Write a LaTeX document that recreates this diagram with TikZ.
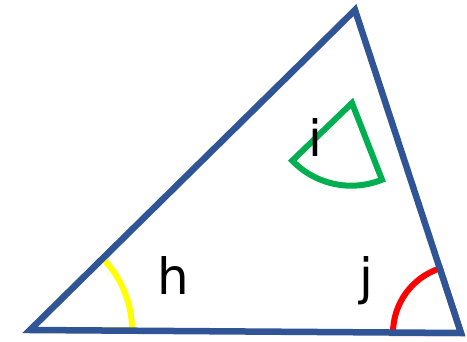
\documentclass[tikz,border=0pt]{standalone}
\usepackage{fontspec}
\setmainfont{DejaVu Sans}
\definecolor{edge}{RGB}{47,85,151}
\definecolor{angh}{RGB}{255,255,0}
\definecolor{angi}{RGB}{0,176,80}
\definecolor{angj}{RGB}{255,0,0}
\usetikzlibrary{calc}

\tikzset{
  side/.style={draw=edge, line width=6.5pt, line join=miter},
  wedge/.style={line width=6pt, line join=miter},
  anglabel/.style={font=\fontsize{50}{60}\selectfont, anchor=base, inner sep=0pt}
}

\begin{document}
\begin{tikzpicture}[x=1pt, y=1pt]
        \useasboundingbox (0,0) rectangle (467,341);
        \coordinate (A) at (30,11);
        \coordinate (B) at (355,331);
        \coordinate (C) at (461,8);
        \coordinate (G) at (352,238);
        % angle marks under the sides
        \draw[wedge, angh] (A) -- ++(0:102) arc[start angle=0, end angle=44.5, radius=102] -- cycle;
        \draw[wedge, angj] (C) -- ++(108:68) arc[start angle=108, end angle=180, radius=68] -- cycle;
        \draw[side] (A) -- (B) -- (C) -- cycle;
        % loose wedge for i
        \draw[wedge, angi] (G) -- ++(224:83) arc[start angle=224, end angle=292, radius=82] -- cycle;
        \node[anglabel] (h) at (173,47) {h};
        \node[anglabel] (i) at (315.5,184) {i};
        \node[anglabel] (j) at (366,47) {j};
      \end{tikzpicture}
\end{document}
